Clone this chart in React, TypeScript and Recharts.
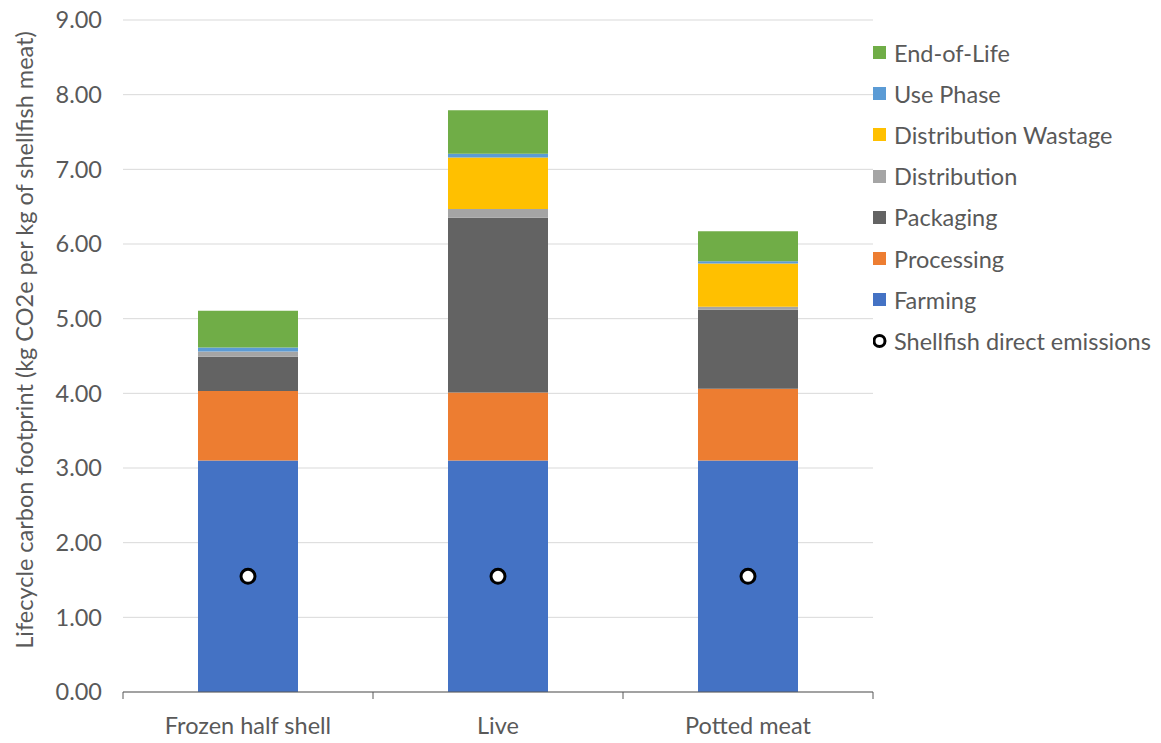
import React from 'react';
import { ComposedChart, Bar, Line, XAxis, YAxis, CartesianGrid, Label } from 'recharts';

const categories = ['Frozen half shell', 'Live', 'Potted meat'];
const farming = [3.1, 3.1, 3.1];
const processing = [0.93, 0.91, 0.96];
const packaging = [0.46, 2.34, 1.06];
const distribution = [0.07, 0.12, 0.04];
const distributionWastage = [0.0, 0.69, 0.58];
const usePhase = [0.055, 0.05, 0.03];
const endOfLife = [0.49, 0.58, 0.4];
const directEmissions = [1.55, 1.55, 1.55];

const yTicks = [0, 1, 2, 3, 4, 5, 6, 7, 8, 9];
const edgeTicks = [0, 1, 2, 3];

const series = [
  { key: 'farming', name: 'Farming', color: '#4472C4', values: farming },
  { key: 'processing', name: 'Processing', color: '#ED7D31', values: processing },
  { key: 'packaging', name: 'Packaging', color: '#636363', values: packaging },
  { key: 'distribution', name: 'Distribution', color: '#A5A5A5', values: distribution },
  { key: 'distributionWastage', name: 'Distribution Wastage', color: '#FFC000', values: distributionWastage },
  { key: 'usePhase', name: 'Use Phase', color: '#5B9BD5', values: usePhase },
  { key: 'endOfLife', name: 'End-of-Life', color: '#70AD47', values: endOfLife },
];

const data = categories.map((c, i) => {
  const row: Record<string, any> = { category: c, idx: i + 0.5, direct: directEmissions[i] };
  series.forEach((s) => {
    row[s.key] = s.values[i];
  });
  return row;
});

const FONT = 'Lato, "Open Sans", sans-serif';
const TEXT = '#595959';
const FS = 23.5;

function LegendBox() {
  const items = [...series].reverse();
  return (
    <div style={{ position: 'absolute', left: 873, top: 32, fontFamily: FONT, fontSize: FS, color: TEXT }}>
      {items.map((s) => (
        <div key={s.key} style={{ display: 'flex', alignItems: 'center', height: 41.2 }}>
          <div style={{ width: 13, height: 13, background: s.color, marginRight: 8 }} />
          <span style={{ whiteSpace: 'nowrap' }}>{s.name}</span>
        </div>
      ))}
      <div style={{ display: 'flex', alignItems: 'center', height: 41.2 }}>
        <svg width={14} height={16} style={{ marginRight: 7 }}>
          <circle cx={6.5} cy={8} r={5.5} fill="#fff" stroke="#000" strokeWidth={3} />
        </svg>
        <span style={{ whiteSpace: 'nowrap' }}>Shellfish direct emissions</span>
      </div>
    </div>
  );
}

export default function App() {
  return (
    <div style={{ position: 'absolute', left: 0, top: 0, width: 1161, height: 743, background: '#fff' }}>
      <ComposedChart
        width={1161}
        height={743}
        data={data}
        margin={{ top: 20, right: 288, bottom: 0, left: 0 }}
        barCategoryGap="30%"
        style={{ fontFamily: FONT }}
      >
        <CartesianGrid vertical={false} stroke="#D9D9D9" strokeWidth={1} />
        <XAxis
          xAxisId="a"
          type="number"
          dataKey="idx"
          domain={[0, 3]}
          ticks={edgeTicks}
          tickSize={7}
          tickFormatter={() => ''}
          height={1}
          axisLine={{ stroke: '#595959', strokeWidth: 1 }}
          tickLine={{ stroke: '#595959', strokeWidth: 1 }}
          allowDataOverflow
        />
        <XAxis
          xAxisId="b"
          dataKey="category"
          type="category"
          height={50}
          axisLine={false}
          tickLine={false}
          tickSize={0}
          tickMargin={24}
          tick={{ fill: TEXT, fontSize: FS, fontFamily: FONT }}
          interval={0}
        />
        <YAxis
          type="number"
          domain={[0, 9]}
          ticks={yTicks}
          width={123}
          axisLine={false}
          tickLine={false}
          tickSize={6}
          tickMargin={15}
          tickFormatter={(v: number) => v.toFixed(2)}
          tick={{ fill: TEXT, fontSize: FS, fontFamily: FONT }}
        >
          <Label
            content={({ viewBox }: any) => {
              const cx = 24;
              const cy = viewBox.y + viewBox.height / 2 - 16;
              return (
                <text
                  x={cx}
                  y={cy}
                  transform={`rotate(-90, ${cx}, ${cy})`}
                  textAnchor="middle"
                  dominantBaseline="central"
                  fill={TEXT}
                  fontSize={FS}
                  fontFamily={FONT}
                >
                  Lifecycle carbon footprint (kg CO2e per kg of shellfish meat)
                </text>
              );
            }}
          />
        </YAxis>
        {series.map((s) => (
          <Bar
            key={s.key}
            xAxisId="b"
            dataKey={s.key}
            name={s.name}
            stackId="a"
            fill={s.color}
            isAnimationActive={false}
          />
        ))}
        <Line
          xAxisId="b"
          dataKey="direct"
          name="Shellfish direct emissions"
          stroke="none"
          dot={{ r: 7, fill: '#fff', stroke: '#000', strokeWidth: 3 }}
          activeDot={false}
          isAnimationActive={false}
        />
      </ComposedChart>
      <LegendBox />
    </div>
  );
}
